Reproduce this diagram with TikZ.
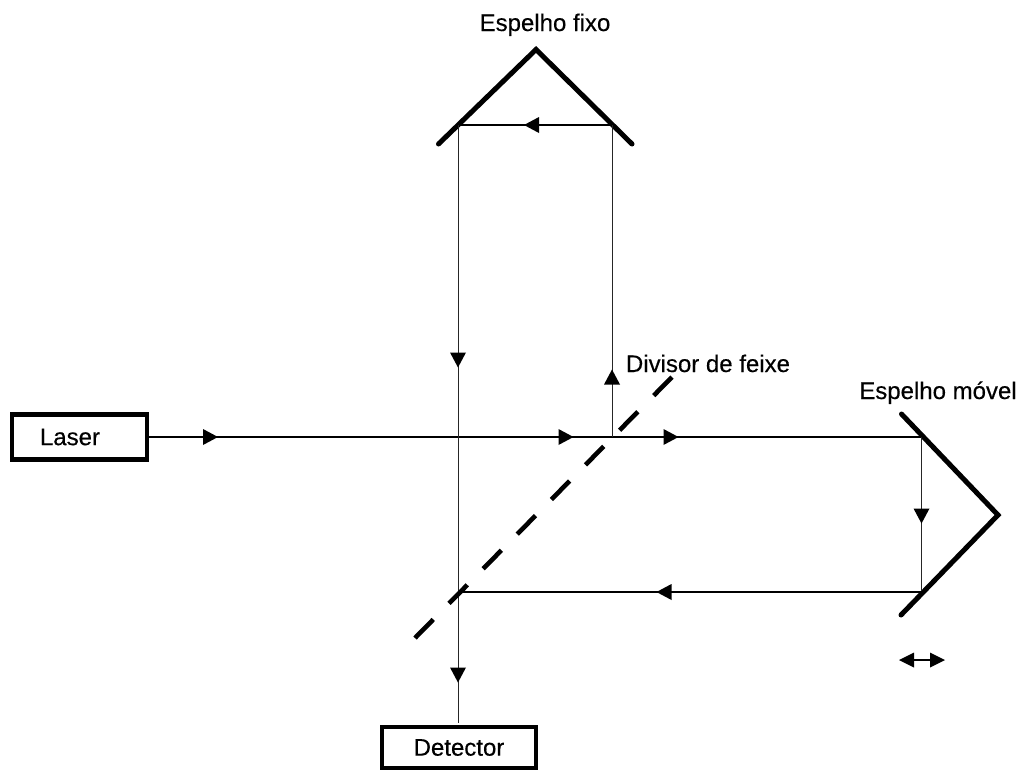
\documentclass[tikz,border=0pt]{standalone}
\usepackage{fontspec}
\setmainfont[FakeBold=0.3]{Liberation Sans}
\begin{document}
\begin{tikzpicture}[x=1pt,y=-1pt,
  rayh/.style={draw=black,line width=1.3pt},
  rayv/.style={draw=black!85,line width=0.9pt},
  mirror/.style={draw=black,line width=5pt,line cap=round,line join=miter},
  splitter/.style={draw=black,line width=4.6pt,dash pattern=on 26pt off 22.6pt},
  boxn/.style={draw=black,line width=4.5pt,fill=white,inner sep=0pt,font=\fontsize{24}{26}\selectfont},
  lab/.style={inner sep=0pt,anchor=base,font=\fontsize{24}{26}\selectfont}]
\useasboundingbox (0,0) rectangle (1020,772);
\def\arr#1#2#3{\fill[shift={(#1,#2)},rotate=#3] (7.5,0) -- (-7.5,-8) -- (-7.5,8) -- cycle;}
\coordinate (lo) at (147,437);
\coordinate (s1) at (612,437);
\coordinate (m2) at (921.5,437);
\coordinate (m3) at (921.5,592);
\coordinate (s2) at (458,592);
\coordinate (f1) at (612,125);
\coordinate (f2) at (458,125);
\coordinate (det) at (458,723);
\coordinate (fa) at (438.5,144);
\coordinate (fb) at (536,49.5);
\coordinate (fc) at (632,144);
\coordinate (ma) at (901.5,414);
\coordinate (mb) at (998,515);
\coordinate (mc) at (901,615);
\draw[mirror] (fa) -- (fb) -- (fc);
\draw[mirror] (ma) -- (mb) -- (mc);
\draw[rayh] (lo) -- (m2);
\draw[rayv] (m2) -- (m3);
\draw[rayh] (m3) -- (s2);
\draw[rayv] (s1) -- (f1);
\draw[rayh] (f1) -- (f2);
\draw[rayv] (f2) -- (det);
\coordinate (sa) at (415,638);
\coordinate (sb) at (672,377);
\draw[splitter] (sa) -- (sb);
\arr{210.5}{437}{0}
\arr{566}{437}{0}
\arr{671}{437}{0}
\arr{921.5}{516}{-90}
\arr{664}{592}{180}
\arr{531.5}{125}{180}
\arr{612}{377}{90}
\arr{458}{360}{-90}
\arr{458}{675}{-90}
\coordinate (da) at (905,660);
\coordinate (db) at (940,660);
\draw[rayh] (da) -- (db);
\fill (899,660) -- (914,652.5) -- (914,667.5) -- cycle;
\fill (945,660) -- (930,652.5) -- (930,667.5) -- cycle;
\node[boxn,minimum width=135pt,minimum height=45pt] (laser) at (79.5,437) {\hspace*{-19pt}\raisebox{-1pt}{Laser}};
\node[boxn,minimum width=154pt,minimum height=41pt] (detector) at (459,747.5) {\raisebox{-4pt}{Detector}};
\node[lab] (t1) at (545,31) {Espelho fixo};
\node[lab] (t2) at (708,372) {Divisor de feixe};
\node[lab] (t3) at (938,399) {Espelho móvel};
\end{tikzpicture}
\end{document}
